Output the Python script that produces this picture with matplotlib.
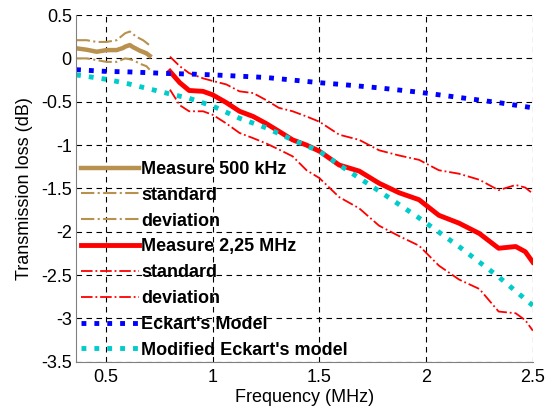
import matplotlib
matplotlib.use('Agg')
import matplotlib.pyplot as plt
import numpy as np

plt.rcParams['font.family'] = ['Liberation Sans', 'DejaVu Sans']

# measured at 500 kHz
f500 = [0.363, 0.41, 0.457, 0.503, 0.55, 0.58, 0.59, 0.612, 0.627, 0.643, 0.658, 0.674, 0.69, 0.705]
m500 = [0.116, 0.10, 0.077, 0.096, 0.096, 0.12, 0.135, 0.154, 0.13, 0.11, 0.09, 0.075, 0.058, 0.03]
up500 = [0.21, 0.21, 0.19, 0.19, 0.21, 0.27, 0.29, 0.31, 0.28, 0.25, 0.23, 0.21, 0.18, 0.15]
lo500 = [0.0, 0.0, -0.02, -0.04, -0.04, -0.01, 0.0, -0.01, -0.02, -0.04, -0.06, -0.075, -0.09, -0.13]

# measured at 2.25 MHz
f225 = [0.80, 0.846, 0.89, 0.955, 1.0, 1.064, 1.126, 1.19, 1.25, 1.31, 1.375, 1.44, 1.5,
        1.593, 1.687, 1.78, 1.874, 1.967, 2.06, 2.154, 2.25, 2.34, 2.42, 2.465, 2.5]
m225 = [-0.15, -0.28, -0.37, -0.38, -0.42, -0.51, -0.61, -0.67, -0.75, -0.84, -0.94, -1.0, -1.07,
        -1.23, -1.30, -1.44, -1.55, -1.63, -1.81, -1.90, -2.02, -2.19, -2.17, -2.23, -2.35]
up225 = [0.02, -0.09, -0.17, -0.23, -0.26, -0.30, -0.38, -0.40, -0.48, -0.57, -0.61, -0.67, -0.73,
         -0.88, -0.94, -1.06, -1.12, -1.17, -1.29, -1.33, -1.40, -1.52, -1.46, -1.49, -1.56]
lo225 = [-0.36, -0.54, -0.61, -0.61, -0.65, -0.75, -0.86, -0.92, -0.98, -1.05, -1.13, -1.29, -1.38,
         -1.60, -1.73, -1.93, -2.05, -2.16, -2.39, -2.55, -2.66, -2.92, -2.94, -3.02, -3.14]

# models
fmod = [0.36, 0.5, 0.6, 0.7, 0.75, 0.8, 0.89, 1.0, 1.126, 1.25, 1.375, 1.5, 1.6, 1.78,
        1.967, 2.154, 2.34, 2.5]
eckart = [-0.13, -0.15, -0.155, -0.165, -0.17, -0.175, -0.18, -0.19, -0.205, -0.22, -0.25,
          -0.28, -0.30, -0.34, -0.39, -0.45, -0.51, -0.57]
mod_eckart = [-0.19, -0.24, -0.29, -0.35, -0.38, -0.41, -0.46, -0.55, -0.69, -0.80, -0.94,
              -1.07, -1.24, -1.53, -1.84, -2.17, -2.52, -2.85]

tan = '#B8914F'
fig = plt.figure(figsize=(5.47, 4.07), dpi=100)
ax = fig.add_axes([0.139, 0.111, 0.835, 0.852])

ax.plot(f500, m500, color=tan, lw=3.2, label='Measure 500 kHz')
ax.plot(f500, up500, color=tan, lw=1.5, ls='-.', label='standard')
ax.plot(f500, lo500, color=tan, lw=1.5, ls='-.', label='deviation')
ax.plot(f225, m225, color='red', lw=3.5, label='Measure 2,25 MHz')
ax.plot(f225, up225, color='red', lw=1.3, ls='-.', label='standard')
ax.plot(f225, lo225, color='red', lw=1.3, ls='-.', label='deviation')
ax.plot(fmod, eckart, color='blue', lw=3.5, ls=':', label="Eckart's Model")
ax.plot(fmod, mod_eckart, color='#00CCCC', lw=3.5, ls=':', label="Modified Eckart's model")

ax.set_xlim(0.36, 2.5)
ax.set_ylim(-3.5, 0.5)
ax.set_xticks([0.5, 1, 1.5, 2, 2.5])
ax.set_xticklabels(['0.5', '1', '1.5', '2', '2.5'])
ax.set_yticks(np.arange(-3.5, 0.51, 0.5))
ax.set_yticklabels(['-3.5', '-3', '-2.5', '-2', '-1.5', '-1', '-0.5', '0', '0.5'])
ax.grid(True, color='black', ls=(0, (5, 4)), lw=0.8)
ax.tick_params(labelsize=13, length=0)
ax.tick_params(axis='y', pad=3)
ax.tick_params(axis='x', pad=5)
for s in ['top', 'right']:
    ax.spines[s].set_visible(False)
for s in ['left', 'bottom']:
    ax.spines[s].set_color('#808080')
ax.set_xlabel('Frequency (MHz)', fontsize=13, labelpad=2)
ax.set_ylabel('Transmission loss (dB)', fontsize=13, labelpad=6)

ax.legend(loc='lower left', bbox_to_anchor=(-0.005, -0.012), frameon=False,
          prop={'weight': 'bold', 'size': 13}, handlelength=3.2,
          labelspacing=0.49, handletextpad=0.15, borderaxespad=0.0)

plt.savefig('out.png', dpi=100)
